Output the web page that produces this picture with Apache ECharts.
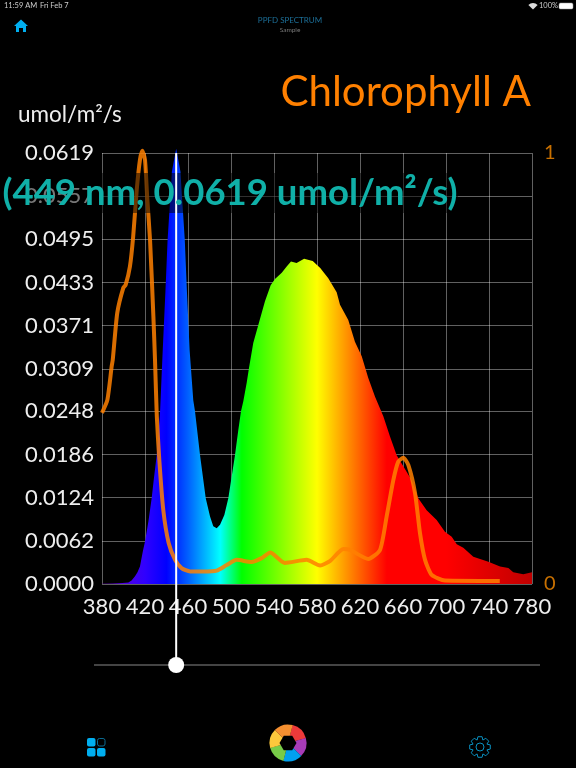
<!DOCTYPE html>
<html><head><meta charset="utf-8">
<style>html,body{margin:0;padding:0;background:#000;}#c{width:576px;height:768px;}</style>
<script src="https://cdn.jsdelivr.net/npm/echarts@6/dist/echarts.min.js"></script>
</head><body><div id="c"></div>
<script>
const spectrumNm = [380,390,399,404.5,407.5,410.7,413,415.3,418,420,423.2,426.2,428.3,430.9,434,436.5,439,441,442.6,443.8,445,447,449,451,453,454.2,455.4,457,459,461.5,464.9,466.5,471.2,476.5,480.5,483.5,486.7,489.8,493.8,497.5,503.7,506.8,509.3,511.4,514.6,516.7,520.7,525.4,531.6,536.9,540.9,547.2,551.8,555.8,561,568,576,583,590.5,598.3,601.4,609.1,615.3,621.6,627.7,634,641.7,647.9,654.1,660,665,668,674.2,682,691.3,699,705.3,710,716.1,725.4,739.4,750.3,758,762.6,771.9,780];
const spectrumVal = [.00005,.00007,.00014,.0002,.0005,.0011,.0017,.0025,.0047,.0061,.0090,.0123,.0152,.0185,.0247,.0336,.0420,.0494,.0533,.0560,.0592,.0609,.0625,.0609,.0592,.0560,.0533,.0494,.0420,.0336,.0264,.0248,.0185,.0123,.0097,.0083,.0080,.0085,.0099,.0123,.0185,.0221,.0248,.0262,.0289,.0310,.0346,.0372,.0406,.0429,.0438,.0447,.0456,.0463,.0461,.0467,.0464,.0454,.0439,.0419,.0401,.0379,.0348,.0327,.0296,.0269,.0241,.0212,.0185,.0170,.0157,.0149,.0123,.0106,.0092,.0075,.0068,.0057,.0052,.0039,.0032,.0025,.0023,.0017,.0014,.0017];
const chlorophyllNm = [380,385,389,390,394.2,399.8,402,406,409,412.3,415.3,417.5,420,422,424.7,427.8,429.3,431,433.3,437,442,448,454,462,474,486.7,496,505.3,519,528.6,536.4,550,570.4,582.8,592,604.5,610.7,627.7,638.6,644.8,651,655.6,660.3,665,671.2,675.8,680.5,686.7,699,750];
const chlorophyllVal = [.397,.427,.505,.520,.629,.687,.694,.737,.806,.914,.984,1.005,.984,.899,.798,.621,.52,.389,.288,.172,.095,.056,.037,.029,.029,.031,.044,.056,.051,.060,.073,.049,.056,.043,.053,.081,.079,.058,.079,.157,.241,.284,.293,.276,.211,.118,.056,.021,.008,.007];
const xTicks = [380,420,460,500,540,580,620,660,700,740,780];
const yTicks = [0,0.0062,0.0124,0.0186,0.0248,0.0309,0.0371,0.0433,0.0495,0.0557,0.0619];
const rightTicks = [0,1];
const gradientNm = [380,400,420,440,460,490,510,580,645,700,780];
const gradientColors = ['#6000a8','#5000e0','#3000ff','#0000ff','#0060ff','#00ffff','#00ff00','#ffff00','#ff0000','#ff0000','#c00000'];
const cursorNm = 449, cursorVal = 0.0619;

const FONT = 'Lato';
const ICON = '#00aeef';
const zip = (a,b)=>a.map((v,i)=>[v,b[i]]);

const chart = echarts.init(document.getElementById('c'), null, {renderer:'canvas'});

const blades = ['#ee3a3a','#a83cb8','#00a0f0','#78cc48','#fcc83c','#f59030'];
const apertureStart = -Math.PI/2 + 0.25;
const aperture = blades.map((c,i)=>({
  type:'sector', z:10,
  shape:{cx:288,cy:743,r:18.5,r0:0,startAngle:apertureStart+i*Math.PI/3,endAngle:apertureStart+(i+1)*Math.PI/3+0.01},
  style:{fill:c}
}));
const hex = Array.from({length:6},(_,i)=>[288+8.5*Math.cos(i*Math.PI/3),743+8.5*Math.sin(i*Math.PI/3)]);

const gear = [];
for(let i=0;i<8;i++){
  const a0=i*Math.PI/4-0.2,a1=i*Math.PI/4+0.2,a2=i*Math.PI/4+Math.PI/8;
  gear.push([480+10.5*Math.cos(a0),747+10.5*Math.sin(a0)],[480+10.5*Math.cos(a1),747+10.5*Math.sin(a1)],[480+7.5*Math.cos(a2),747+7.5*Math.sin(a2)]);
}

const text = (x,y,t,size,fill,align,extra)=>({type:'text',z:20,x,y,style:Object.assign({text:t,font:`${extra||''} ${size}px ${FONT}`,fill,align:align||'left',verticalAlign:'middle'})});

chart.setOption({
  animation:false,
  backgroundColor:'#000',
  grid:{left:102,right:44,top:153,bottom:184,containLabel:false},
  xAxis:{type:'value',min:380,max:780,
    axisLine:{show:false},
    axisTick:{show:false,customValues:xTicks},
    axisLabel:{customValues:xTicks,color:'#eee',fontFamily:FONT,fontSize:22,margin:12,showMinLabel:true,showMaxLabel:true,hideOverlap:false},
    splitLine:{show:true,lineStyle:{color:'rgba(255,255,255,0.38)',width:1}}},
  yAxis:[
    {type:'value',min:0,max:0.0619,
      axisLine:{show:false},
      axisTick:{show:false,customValues:yTicks},
      axisLabel:{customValues:yTicks,color:'#eee',fontFamily:FONT,fontSize:22,margin:8,formatter:v=>v.toFixed(4)},
      splitLine:{show:true,lineStyle:{color:'rgba(255,255,255,0.38)',width:1}}},
    {type:'value',min:0,max:1,position:'right',
      axisLine:{show:false},
      axisTick:{show:false,customValues:rightTicks},
      axisLabel:{customValues:rightTicks,color:'#c87000',fontFamily:FONT,fontSize:20,margin:12,formatter:v=>String(v)},
      splitLine:{show:false}}
  ],
  series:[
    {type:'line',name:'PPFD',data:zip(spectrumNm,spectrumVal),showSymbol:false,smooth:false,clip:false,z:3,
      lineStyle:{width:0},
      areaStyle:{opacity:1,color:new echarts.graphic.LinearGradient(0,0,1,0,
        gradientNm.map((w,i)=>({offset:(w-380)/400,color:gradientColors[i]})))}},
    {type:'line',name:'Chlorophyll A',yAxisIndex:1,data:zip(chlorophyllNm,chlorophyllVal),showSymbol:false,smooth:0.2,clip:false,z:4,
      lineStyle:{color:'#ff8000',width:4,opacity:0.85}},
    {type:'custom',name:'cursor',z:6,clip:false,data:[[cursorNm,cursorVal]],
      renderItem:(p,api)=>{
        const pt=api.coord([api.value(0),api.value(1)]);
        return {type:'group',children:[
          {type:'rect',shape:{x:0,y:173,width:458,height:40},style:{fill:'rgba(0,0,0,0.5)'},z2:1},
          {type:'line',shape:{x1:pt[0],y1:pt[1],x2:pt[0],y2:665},style:{stroke:'#fff',lineWidth:2},z2:2},
          {type:'circle',shape:{cx:pt[0],cy:665,r:8},style:{fill:'#fff'},z2:3},
          {type:'text',x:230,y:193,z2:4,style:{text:`(${api.value(0)} nm, ${api.value(1).toFixed(4)} umol/m²/s)`,font:`bold 36.5px ${FONT}`,fill:'#10b0a8',align:'center',verticalAlign:'middle'}}
        ]};
      }}
  ],
  graphic:{elements:[
    text(4,6,'11:59 AM',7.5,'#ccc'),
    text(40,6,'Fri Feb 7',7.5,'#ccc'),
    text(539,6,'100%',7.5,'#ccc'),
    {type:'rect',z:20,shape:{x:559,y:3,width:14,height:6,r:1.5},style:{fill:'#fff',stroke:'#999',lineWidth:.5}},
    {type:'sector',z:20,shape:{cx:533,cy:9.5,r:6.5,r0:0,startAngle:-Math.PI*0.75,endAngle:-Math.PI*0.25},style:{fill:'#ddd'}},
    text(290,20.5,'PPFD SPECTRUM',8,'#1c6f98','center'),
    text(290,30,'Sample',6.5,'#777','center'),
    {type:'polygon',z:20,shape:{points:[[21,19.5],[28,26],[26,26],[26,32],[23,32],[23,28],[19,28],[19,32],[16,32],[16,26],[14,26]]},style:{fill:ICON}},
    text(531,92,'Chlorophyll A',42,'#ff8000','right'),
    text(18,115,'umol/m²/s',22.5,'#eee'),
    {type:'line',z:2,shape:{x1:94,y1:665,x2:540,y2:665},style:{stroke:'#888',lineWidth:1}},
    {type:'rect',z:20,shape:{x:87,y:738,width:8.5,height:8.5,r:2},style:{fill:ICON}},
    {type:'rect',z:20,shape:{x:97.5,y:738.5,width:7.5,height:7.5,r:2},style:{fill:'none',stroke:'#0a6a90',lineWidth:1}},
    {type:'rect',z:20,shape:{x:87,y:748,width:8.5,height:8.5,r:2},style:{fill:ICON}},
    {type:'rect',z:20,shape:{x:97,y:748,width:8.5,height:8.5,r:2},style:{fill:ICON}},
    ...aperture,
    {type:'polygon',z:11,shape:{points:hex},style:{fill:'#000'}},
    {type:'polygon',z:20,shape:{points:gear},style:{fill:'none',stroke:'#0a90c0',lineWidth:1}},
    {type:'circle',z:20,shape:{cx:480,cy:747,r:4},style:{fill:'none',stroke:'#0a90c0',lineWidth:1}}
  ]}
});
</script></body></html>
